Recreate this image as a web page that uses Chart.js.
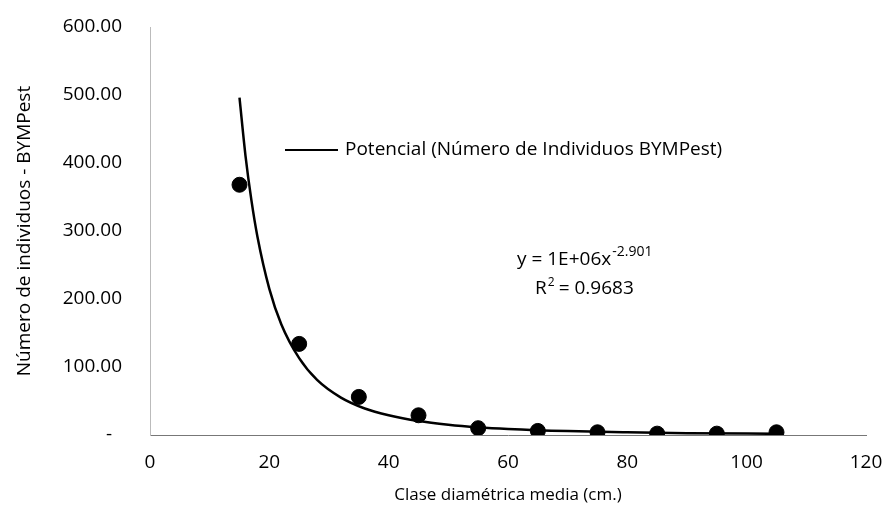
<!DOCTYPE html>
<html>
<head>
<meta charset="utf-8">
<script src="https://cdn.jsdelivr.net/npm/chart.js@4/dist/chart.umd.min.js"></script>
<style>
  body { margin: 0; background: #fff; }
  #wrap { width: 890px; height: 508px; position: relative; }
</style>
</head>
<body>
<div id="wrap"><canvas id="chart"></canvas></div>
<script>
// diameter classes (cm) and number of individuals
var clases = [15, 25, 35, 45, 55, 65, 75, 85, 95, 105];
var individuos = [368, 134, 56, 29, 10, 6, 4, 2, 2, 4];

// power trendline, points
var trendX = [15, 16, 17, 18, 20, 22, 25, 28, 32, 36, 40, 45, 50, 55, 60, 70, 80, 90, 105];
var trendY = [496, 411, 345, 292, 215, 163, 113, 81, 55, 39, 29, 20.5, 15.1, 11.4, 8.9, 5.7, 3.9, 2.7, 1.75];

var xTicks = [0, 20, 40, 60, 80, 100, 120];
var yTicks = [0, 100, 200, 300, 400, 500, 600];

var FONT = "'Open Sans', 'DejaVu Sans', sans-serif";

function toPoints(xs, ys) {
    var pts = [];
    for (var i = 0; i < xs.length; i++) {
        pts.push({ x: xs[i], y: ys[i] });
    }
    return pts;
}

// draws the legend entry and the trendline equation inside the plot
var notesPlugin = {
    id: "notes",
    afterDraw: function (chart) {
        var ctx = chart.ctx;
        var area = chart.chartArea;
        var trend = chart.data.datasets[1];
        ctx.save();

        // legend
        var ly = area.top + 123;
        ctx.strokeStyle = "#000";
        ctx.lineWidth = 2;
        ctx.beginPath();
        ctx.moveTo(area.left + 135, ly);
        ctx.lineTo(area.left + 188, ly);
        ctx.stroke();
        ctx.fillStyle = "#000";
        ctx.font = "19px " + FONT;
        ctx.textBaseline = "middle";
        ctx.textAlign = "left";
        ctx.fillText(trend.label, area.left + 195, ly);

        // equation
        var ex = area.left + 367;
        var ey = area.top + 233;
        ctx.font = "19px " + FONT;
        var main = "y = 1E+06x";
        ctx.fillText(main, ex, ey);
        var w = ctx.measureText(main).width;
        ctx.font = "14px " + FONT;
        ctx.fillText("-2.901", ex + w + 1, ey - 8);
        ctx.font = "19px " + FONT;
        ctx.fillText("R", ex + 18, ey + 29);
        var rw = ctx.measureText("R").width;
        ctx.font = "12px " + FONT;
        ctx.fillText("2", ex + 18 + rw + 1, ey + 23);
        ctx.font = "19px " + FONT;
        ctx.fillText(" = 0.9683", ex + 18 + rw + 7, ey + 29);
        ctx.restore();
    }
};

var ctx = document.getElementById("chart").getContext("2d");
new Chart(ctx, {
    type: "scatter",
    data: {
        datasets: [{
            label: "Número de Individuos BYMPest",
            data: toPoints(clases, individuos),
            backgroundColor: "#000",
            borderColor: "#000",
            pointRadius: 7.5,
            pointHoverRadius: 7.5,
            showLine: false,
            order: 2
        }, {
            label: "Potencial (Número de Individuos BYMPest)",
            data: toPoints(trendX, trendY),
            borderColor: "#000",
            borderWidth: 2.5,
            pointRadius: 0,
            showLine: true,
            fill: false,
            cubicInterpolationMode: "monotone",
            order: 1
        }]
    },
    options: {
        responsive: true,
        maintainAspectRatio: false,
        animation: false,
        layout: { padding: { top: 27, right: 24, left: 0, bottom: 0 } },
        plugins: {
            legend: { display: false },
            tooltip: { enabled: false }
        },
        scales: {
            x: {
                type: "linear",
                min: 0,
                max: 120,
                afterBuildTicks: function (scale) {
                    scale.ticks = xTicks.map(function (v) { return { value: v }; });
                },
                afterFit: function (scale) {
                    scale.height = 73;
                    scale.paddingLeft = 0;
                    scale.paddingRight = 0;
                },
                grid: { display: false, drawTicks: false },
                border: { display: true, color: "#777", width: 1, dash: [3, 3] },
                ticks: {
                    color: "#000",
                    padding: 16,
                    font: { family: FONT, size: 19 }
                },
                title: {
                    display: true,
                    text: "Clase diamétrica media (cm.)",
                    color: "#000",
                    padding: { top: 0, bottom: 3 },
                    font: { family: FONT, size: 17 }
                }
            },
            y: {
                min: 0,
                max: 600,
                afterBuildTicks: function (scale) {
                    scale.ticks = yTicks.map(function (v) { return { value: v }; });
                },
                afterFit: function (scale) {
                    scale.width = 150;
                    scale.paddingTop = 0;
                    scale.paddingBottom = 0;
                },
                grid: { display: false, drawTicks: false },
                border: { display: true, color: "#bbb", width: 1, dash: [1, 9] },
                ticks: {
                    color: "#000",
                    padding: 28,
                    font: { family: FONT, size: 19 },
                    callback: function (v) {
                        return v === 0 ? "-  " : v.toFixed(2);
                    }
                },
                title: {
                    display: true,
                    text: "Número de individuos - BYMPest",
                    color: "#000",
                    padding: { top: 13, bottom: 0 },
                    font: { family: FONT, size: 19 }
                }
            }
        }
    },
    plugins: [notesPlugin]
});
</script>
</body>
</html>
